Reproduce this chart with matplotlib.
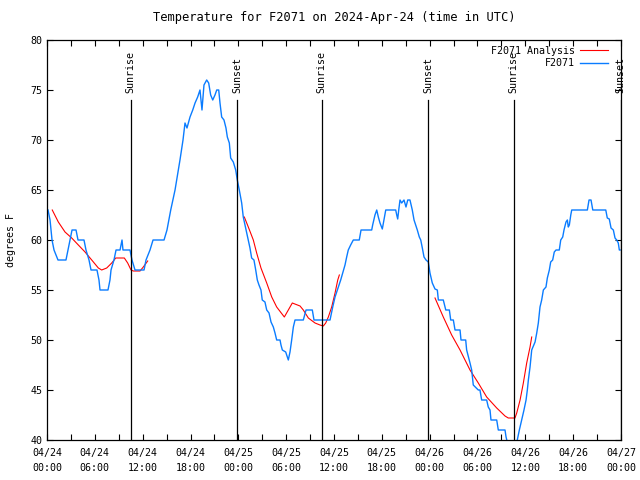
import matplotlib
matplotlib.use('Agg')
import matplotlib.pyplot as plt

# hours since 2024-04-24 00:00 UTC
obs_hours = [0.13, 0.38, 0.63, 0.88, 1.38, 2.38, 2.63, 2.89, 3.14, 3.64, 3.89, 4.64, 4.89, 5.27, 5.52,
             6.27, 6.52, 6.65, 7.65, 7.9, 8.03, 8.4, 8.66, 9.16, 9.41, 9.53, 10.41, 10.66, 11.04, 11.41,
             12.17, 12.42, 12.92, 13.3, 14.68, 15.05, 15.52, 16.06, 16.68, 17.06, 17.31, 17.56, 17.94,
             18.28, 18.57, 18.9, 19.19, 19.44, 19.69, 20.03, 20.28, 20.53, 20.79, 21.07, 21.29, 21.54,
             21.7, 21.91, 22.2, 22.45, 22.62, 22.87, 23.04, 23.37, 23.67, 23.87, 24.12, 24.42, 24.62,
             24.84, 25.17, 25.46, 25.67, 25.96, 26.18, 26.38, 26.59, 26.84, 27.0, 27.34, 27.56, 27.85,
             28.1, 28.39, 28.6, 28.81, 29.23, 29.35, 29.52, 29.94, 30.19, 30.27, 30.48, 30.69, 30.9,
             31.11, 32.15, 32.49, 33.28, 33.49, 35.5, 35.84, 36.13, 36.54, 36.84, 37.09, 37.38, 37.59,
             37.79, 38.09, 38.42, 39.17, 39.39, 40.73, 40.85, 41.14, 41.36, 41.56, 41.77, 42.06, 42.27,
             42.49, 43.74, 43.87, 43.99, 44.12, 44.28, 44.49, 44.78, 45.03, 45.25, 45.53, 45.82, 46.04,
             46.45, 46.7, 46.88, 47.08, 47.29, 47.54, 47.83, 48.04, 48.33, 48.67, 48.96, 49.09, 49.71,
             50.02, 50.47, 50.64, 50.97, 51.18, 51.81, 51.93, 52.52, 52.64, 53.06, 53.27, 53.47, 54.1,
             54.31, 54.52, 55.15, 55.35, 55.57, 55.69, 56.41, 56.61, 57.45, 57.58, 57.83, 58.33, 58.83,
             58.99, 59.25, 59.54, 59.83, 60.09, 60.25, 60.38, 60.59, 60.8, 61.22, 61.43, 61.63, 61.84,
             62.05, 62.26, 62.59, 62.76, 63.01, 63.18, 63.43, 63.63, 63.85, 64.26, 64.44, 64.69, 64.85,
             65.1, 65.27, 65.39, 65.52, 65.7, 65.82, 67.78, 67.99, 68.24, 68.46, 70.09, 70.28, 70.53,
             70.75, 71.04, 71.25, 71.46, 71.66, 71.79, 71.88]
obs_temp = [63, 62, 60, 59, 58, 58, 59, 60, 61, 61, 60, 60, 59, 58, 57,
            57, 56, 55, 55, 56, 57, 58, 59, 59, 60, 59, 59, 58, 57, 57,
            57, 58, 59, 60, 60, 61, 63, 65, 68, 70, 71.7, 71.2, 72.3,
            73, 73.7, 74.3, 75, 73, 75.5, 76, 75.7, 74.5, 74, 74.5, 75, 75,
            73.7, 72.3, 72, 71.2, 70.3, 69.7, 68.2, 67.8, 67, 66, 65, 63.7, 62.3,
            61.5, 60.3, 59.2, 58.2, 58, 57, 56, 55.5, 55, 54, 53.8, 53, 52.7,
            51.8, 51.3, 50.7, 50, 50, 49.5, 49, 48.8, 48.2, 48, 48.8, 50, 51.3,
            52, 52, 53, 53, 52, 52, 53.3, 54.3, 55.3, 56, 56.7, 57.5, 58.3,
            59, 59.5, 60, 60, 61, 61, 61.5, 62.5, 63, 62.3, 61.7, 61.1, 62,
            63, 63, 62.5, 62.1, 63, 64, 63.7, 64, 63.3, 64, 64, 63, 62,
            61, 60.3, 60, 59.2, 58.3, 58, 57.8, 56.7, 55.7, 55.1, 55, 54, 54,
            53, 53, 52, 52, 51, 51, 50, 50, 49, 47.7, 47, 45.5, 45,
            45, 44, 44, 43.3, 43, 42, 42, 41, 41, 40.3, 39.5, 39, 39.5,
            40, 41, 42, 43, 44, 45, 46, 47.3, 49, 49.8, 50.7, 51.7, 53.3,
            54, 55, 55.3, 56.2, 57, 57.8, 58, 58.8, 59, 59, 60, 60.3, 61,
            61.8, 62, 61.3, 61.5, 62.5, 63, 63, 64, 64, 63, 63, 62.2, 62.1,
            61.2, 61, 60.2, 60, 59.7, 59, 59]

ana1_hours = [0.66, 1.42, 2.26, 3.1, 3.93, 4.77, 5.61, 6.44, 6.86, 7.49, 8.12, 8.62, 9.7, 10.12,
              10.54, 10.83, 11.67, 12.08, 12.63]
ana1_temp = [63, 61.8, 60.8, 60.2, 59.5, 58.8, 58, 57.2, 57, 57.2, 57.7, 58.2, 58.2, 57.7,
             57, 56.9, 56.9, 57.3, 57.9]
ana2_hours = [24.75, 25.25, 25.88, 26.3, 26.84, 27.56, 28.19, 28.81, 29.77, 30.27, 30.77, 31.74,
              32.15, 32.78, 33.62, 34.24, 34.66, 34.96, 35.29, 35.71, 36.13, 36.47, 36.67]
ana2_temp = [62.3, 61.3, 60, 58.7, 57.2, 55.7, 54.3, 53.3, 52.3, 53, 53.7, 53.4,
             53, 52.2, 51.7, 51.5, 51.4, 51.7, 52.3, 53.3, 54.7, 56, 56.5]
ana3_hours = [48.67, 49.71, 50.76, 51.81, 53.06, 54.1, 55.15, 56.41, 57.45, 57.86, 58.7, 58.92,
              59.34, 59.75, 60.17, 60.59, 60.8]
ana3_temp = [54.2, 52.3, 50.5, 49, 47, 45.7, 44.3, 43.2, 42.4, 42.2, 42.2, 42.7,
             44, 45.7, 47.7, 49.3, 50.3]

sun_hours = [10.51, 23.87, 34.45, 47.83, 58.52, 71.95]
sun_labels = ['Sunrise', 'Sunset', 'Sunrise', 'Sunset', 'Sunrise', 'Sunset']

tick_hours = list(range(0, 73, 6))
tick_labels = ['04/24\n00:00', '04/24\n06:00', '04/24\n12:00', '04/24\n18:00',
               '04/25\n00:00', '04/25\n06:00', '04/25\n12:00', '04/25\n18:00',
               '04/26\n00:00', '04/26\n06:00', '04/26\n12:00', '04/26\n18:00',
               '04/27\n00:00']

plt.rcParams['font.family'] = 'DejaVu Sans Mono'
plt.rcParams['font.size'] = 7.2

fig = plt.figure(figsize=(6.4, 4.8), dpi=100)
ax = fig.add_axes([47/640, 40/480, 574/640, 400/480])

ax.plot(ana1_hours, ana1_temp, color='#ff0000', lw=0.8, label='F2071 Analysis')
ax.plot(ana2_hours, ana2_temp, color='#ff0000', lw=0.8)
ax.plot(ana3_hours, ana3_temp, color='#ff0000', lw=0.8)
ax.plot(obs_hours, obs_temp, color='#0a7cff', lw=1.0, label='F2071')

for h, lab in zip(sun_hours, sun_labels):
    ax.plot([h, h], [40, 74], color='black', lw=0.9)
    ax.text(h, 74.7, lab, rotation=90, ha='center', va='bottom', clip_on=False)

ax.set_xlim(0, 72)
ax.set_ylim(40, 80)
ax.set_xticks(tick_hours)
ax.set_xticklabels(tick_labels, linespacing=1.6)
ax.set_xticks(range(0, 73, 3), minor=True)
ax.set_yticks(range(40, 81, 5))
ax.tick_params(direction='in', top=True, right=True, length=4, width=0.8)
ax.tick_params(which='minor', direction='in', top=True, length=4, width=0.8)
ax.tick_params(axis='x', pad=6)
for s in ax.spines.values():
    s.set_linewidth(0.9)

ax.set_title('Temperature for F2071 on 2024-Apr-24 (time in UTC)', pad=14)
ax.set_ylabel('degrees F', labelpad=10)
ax.legend(loc='upper right', bbox_to_anchor=(0.988, 1.0), frameon=False, markerfirst=False,
          handlelength=2.8, borderaxespad=0.2, labelspacing=0.25, handletextpad=0.5)

fig.savefig('out.png', dpi=100)
